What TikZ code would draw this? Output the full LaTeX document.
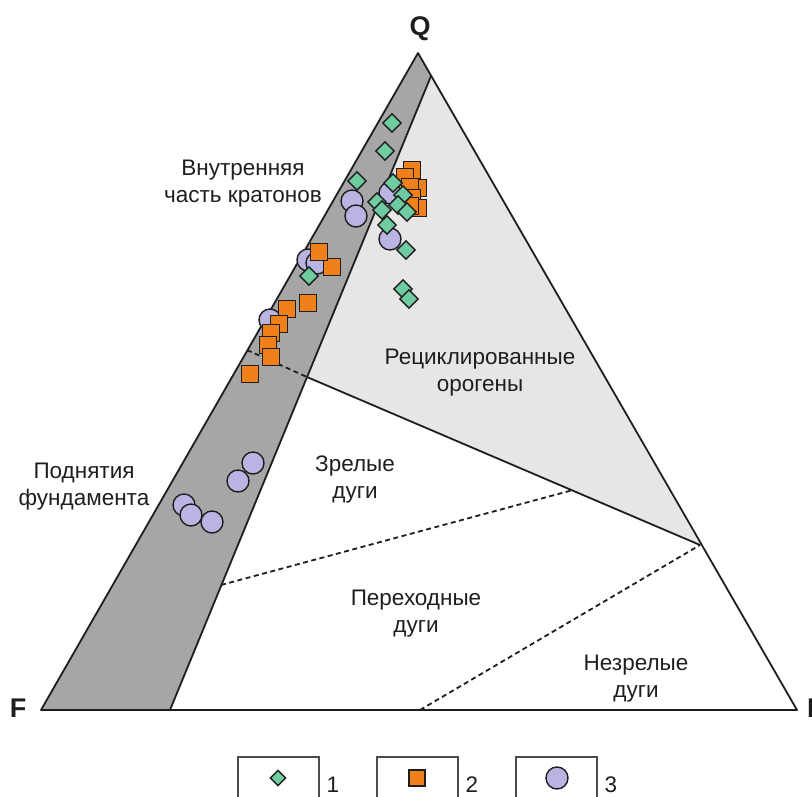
\documentclass[tikz,border=0pt]{standalone}
\usepackage{fontspec}
\setmainfont{Liberation Sans}
\usetikzlibrary{shapes.geometric}
\definecolor{dgray}{RGB}{166,166,166}
\definecolor{lgray}{RGB}{230,230,230}
\definecolor{mgreen}{RGB}{110,204,160}
\definecolor{morange}{RGB}{240,128,26}
\definecolor{mlav}{RGB}{186,180,226}
\definecolor{ink}{RGB}{30,30,30}
\tikzset{
  edge/.style={line width=1.8pt, draw=ink, line join=round},
  dashline/.style={line width=1.8pt, draw=ink, dash pattern=on 5pt off 3.5pt},
  lbl/.style={font=\fontsize{22.5}{27}\selectfont, align=center, text=ink, inner sep=0pt},
  vlbl/.style={font=\fontsize{27}{29}\selectfont\bfseries, text=ink, inner sep=0pt},
  dmk/.style={diamond, draw=ink, line width=1.4pt, fill=mgreen, minimum size=19pt, inner sep=0pt},
  smk/.style={rectangle, draw=ink, line width=1.4pt, fill=morange, minimum size=17pt, inner sep=0pt},
  cmk/.style={circle, draw=ink, line width=1.4pt, fill=mlav, minimum size=22pt, inner sep=0pt},
  legbox/.style={line width=1.2pt, draw=ink!80},
}
\begin{document}
\begin{tikzpicture}[x=1pt,y=-1pt]
\useasboundingbox (0,0) rectangle (812,796);
% vertices and boundary points
\coordinate (Q) at (418,53);
\coordinate (F) at (41,710);
\coordinate (L) at (797,710);
\coordinate (A) at (431,76);
\coordinate (B) at (170,710);
\coordinate (C) at (307,377);
\coordinate (D) at (700,545);
\coordinate (E) at (247,350);
\coordinate (G) at (221,585);
\coordinate (H) at (573,490);
\coordinate (I) at (420,710);
% fills
\fill[dgray] (F) -- (Q) -- (A) -- (B) -- cycle;
\fill[lgray] (A) -- (D) -- (C) -- cycle;
% lines
\draw[edge] (F) -- (Q) -- (L) -- cycle;
\draw[edge] (A) -- (B);
\draw[edge] (C) -- (D);
\draw[dashline] (E) -- (C);
\draw[dashline] (G) -- (H);
\draw[dashline] (I) -- (D);
% vertex labels
\node[vlbl] (lq) at (420,29) {Q};
\node[vlbl] (lf) at (18,708) {F};
\node[vlbl, anchor=west] (ll) at (807,708) {L};
% field labels
\node[lbl] (t1) at (243,184) {Внутренняя\\часть кратонов};
\node[lbl] (t2) at (480,373) {Рециклированные\\орогены};
\node[lbl] (t3) at (355,479) {Зрелые\\дуги};
\node[lbl] (t4) at (416,614) {Переходные\\дуги};
\node[lbl] (t5) at (636,679) {Незрелые\\дуги};
\node[lbl] (t6) at (84,487) {Поднятия\\фундамента};
% circles
\foreach \x/\y [count=\i] in {352/201, 356/216, 390/193, 390/239, 308/260, 317/263, 270/320, 253/463, 238/481, 184/505, 191/515, 212/522}
  \node[cmk] (c\i) at (\x,\y) {};
% squares
\foreach \x/\y [count=\i] in {412/170, 405/177, 418/188, 410/187, 412/198, 418/208, 410/206, 332/267, 319/252, 308/303, 287/309, 279/324, 271/333, 268/345, 271/357, 250/374}
  \node[smk] (s\i) at (\x,\y) {};
% diamonds
\foreach \x/\y [count=\i] in {392/123, 385/151, 357/181, 393/183, 403/195, 377/202, 398/205, 407/212, 382/210, 387/225, 406/250, 403/289, 409/299, 309/276}
  \node[dmk] (d\i) at (\x,\y) {};
% legend
\draw[legbox] (238,800) -- (238,757) -- (319,757) -- (319,800);
\draw[legbox] (377,800) -- (377,757) -- (458,757) -- (458,800);
\draw[legbox] (516,800) -- (516,757) -- (597,757) -- (597,800);
\node[dmk, minimum size=16pt] (ld) at (278,778) {};
\node[smk, minimum size=16pt] (ls) at (417,778) {};
\node[cmk, minimum size=22pt] (lc) at (557,778) {};
\node[lbl] (n1) at (333,785) {1};
\node[lbl] (n2) at (472,785) {2};
\node[lbl] (n3) at (611,785) {3};
\end{tikzpicture}
\end{document}
